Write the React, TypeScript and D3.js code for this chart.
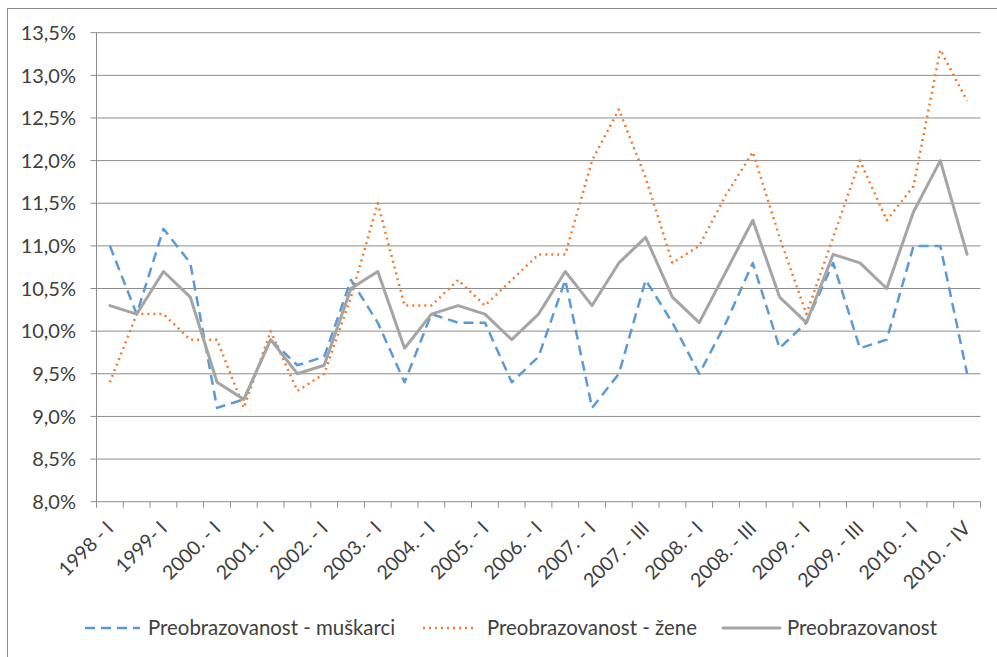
import React from "react";
import * as d3 from "d3";

const categories: string[] = [
  "1998 - I", "1998 - II", "1999- I", "1999 - II", "2000. - I", "2000. - II",
  "2001. - I", "2001. - II", "2002. - I", "2002. - II", "2003. - I", "2003. - II",
  "2004. - I", "2004. - II", "2005. - I", "2005. - II", "2006. - I", "2006. - II",
  "2007. - I", "2007. - II", "2007. - III", "2007. - IV", "2008. - I", "2008. - II",
  "2008. - III", "2008. - IV", "2009. - I", "2009. - II", "2009. - III", "2009. - IV",
  "2010. - I", "2010. - III", "2010. - IV",
];

const tickLabelEvery = 2;

const muskarci: number[] = [
  11.0, 10.2, 11.2, 10.8, 9.1, 9.2, 9.9, 9.6, 9.7, 10.6, 10.1, 9.4,
  10.2, 10.1, 10.1, 9.4, 9.7, 10.6, 9.1, 9.5, 10.6, 10.1, 9.5, 10.1,
  10.8, 9.8, 10.1, 10.8, 9.8, 9.9, 11.0, 11.0, 9.5,
];

const zene: number[] = [
  9.4, 10.2, 10.2, 9.9, 9.9, 9.1, 10.0, 9.3, 9.5, 10.4, 11.5, 10.3,
  10.3, 10.6, 10.3, 10.6, 10.9, 10.9, 12.0, 12.6, 11.8, 10.8, 11.0, 11.6,
  12.1, 11.1, 10.2, 11.1, 12.0, 11.3, 11.7, 13.3, 12.7,
];

const ukupno: number[] = [
  10.3, 10.2, 10.7, 10.4, 9.4, 9.2, 9.9, 9.5, 9.6, 10.5, 10.7, 9.8,
  10.2, 10.3, 10.2, 9.9, 10.2, 10.7, 10.3, 10.8, 11.1, 10.4, 10.1, 10.7,
  11.3, 10.4, 10.1, 10.9, 10.8, 10.5, 11.4, 12.0, 10.9,
];

const yTicks: number[] = [8.0, 8.5, 9.0, 9.5, 10.0, 10.5, 11.0, 11.5, 12.0, 12.5, 13.0, 13.5];

const seriesNames: string[] = [
  "Preobrazovanost - muškarci",
  "Preobrazovanost - žene",
  "Preobrazovanost",
];

const W = 997;
const H = 657;
const FONT = "Lato, 'Open Sans', sans-serif";

export default function App() {
  const left = 96.5;
  const right = 980.5;
  const top = 32.7;
  const bottom = 501.7;

  const x = d3.scaleBand<string>().domain(categories).range([left, right]).padding(0);
  const y = d3.scaleLinear().domain([8, 13.5]).range([bottom, top]);
  const cx = (c: string) => (x(c) as number) + x.bandwidth() / 2;

  const mk = (vals: number[]) =>
    d3
      .line<number>()
      .x((_, i) => cx(categories[i]))
      .y((v) => y(v))(vals) as string;

  const fmt = (v: number) => v.toFixed(1).replace(".", ",") + "%";

  const series = [
    { name: seriesNames[0], vals: muskarci, color: "#5b9bd5", width: 2.5, dash: "10,6", cap: "butt" },
    { name: seriesNames[1], vals: zene, color: "#ed7d31", width: 2.5, dash: "2,4", cap: "butt" },
    { name: seriesNames[2], vals: ukupno, color: "#a5a5a5", width: 3, dash: undefined, cap: "round" },
  ];

  const boundaries = [...categories.map((c) => x(c) as number), right];

  const legendItems = [
    { line: [85, 140], text: 148 },
    { line: [423, 477], text: 487 },
    { line: [723, 780], text: 787 },
  ];
  const legendY = 628;

  return (
    <svg
      width={W}
      height={H}
      style={{ position: "absolute", left: 0, top: 0, background: "#fff" }}
      fontFamily={FONT}
    >
      <rect x={0} y={0} width={W} height={H} fill="#fff" />
      <rect x={7.5} y={8.5} width={1100} height={800} fill="none" stroke="#8a8a8a" strokeWidth={1} />

      {/* gridlines */}
      {yTicks.map((t) => (
        <line key={"g" + t} x1={left - 6} x2={right} y1={y(t)} y2={y(t)} stroke="#8c8c8c" strokeWidth={1} />
      ))}
      {/* y axis line */}
      <line x1={left} x2={left} y1={top} y2={bottom} stroke="#8c8c8c" strokeWidth={1} />
      {/* x tick marks */}
      {boundaries.map((b, i) => (
        <line key={"xt" + i} x1={b} x2={b} y1={bottom} y2={bottom + 6} stroke="#8c8c8c" strokeWidth={1} />
      ))}

      {/* y labels */}
      {yTicks.map((t) => (
        <text
          key={"yl" + t}
          x={76}
          y={y(t)}
          dy="0.36em"
          textAnchor="end"
          fontSize={20}
          fill="#404040"
        >
          {fmt(t)}
        </text>
      ))}

      {/* x labels */}
      {categories.map((c, i) =>
        i % tickLabelEvery === 0 ? (
          <text
            key={"xl" + i}
            transform={`translate(${cx(c)},${bottom + 23}) rotate(-45)`}
            dy="0.35em"
            textAnchor="end"
            fontSize={19.5}
            fill="#404040"
          >
            {c}
          </text>
        ) : null
      )}

      {/* series */}
      {series.map((s) => (
        <path
          key={s.name}
          d={mk(s.vals)}
          fill="none"
          stroke={s.color}
          strokeWidth={s.width}
          strokeDasharray={s.dash}
          strokeLinecap={s.cap as any}
          strokeLinejoin="round"
        />
      ))}

      {/* legend */}
      {series.map((s, i) => (
        <g key={"lg" + i}>
          <line
            x1={legendItems[i].line[0]}
            x2={legendItems[i].line[1]}
            y1={legendY}
            y2={legendY}
            stroke={s.color}
            strokeWidth={s.width}
            strokeDasharray={s.dash}
            strokeLinecap={s.cap as any}
          />
          <text x={legendItems[i].text} y={legendY} dy="0.36em" fontSize={20.4} fill="#404040">
            {s.name}
          </text>
        </g>
      ))}
    </svg>
  );
}
